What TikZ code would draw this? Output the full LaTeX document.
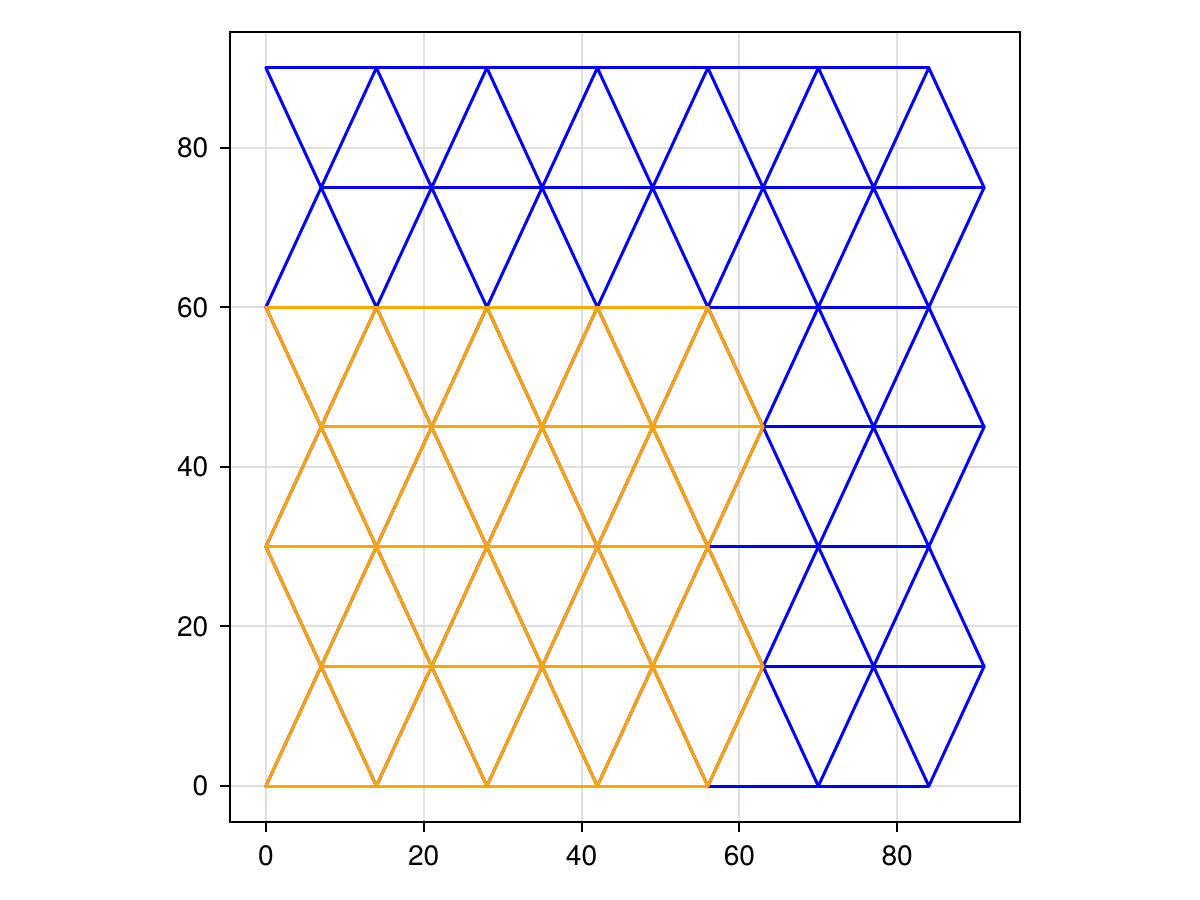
\documentclass[tikz,border=0pt]{standalone}
\usepackage{fontspec}
\setmainfont{TeX Gyre Heros}
\tikzset{>=stealth}

\begin{document}
\begin{tikzpicture}[
    meshline/.style={line width=0.85pt, line join=round, line cap=round},
    xlab/.style={anchor=north, inner sep=0pt, font=\fontsize{8}{9.6}\selectfont},
    ylab/.style={anchor=east, inner sep=0pt, font=\fontsize{8}{9.6}\selectfont}]
    \useasboundingbox (0,0) rectangle (12,9);
    \begin{scope}[shift={(2.659,1.139)}, x=0.07892cm, y=0.0798cm]
    \foreach \t in {0,20,...,80} {
        \draw[color=black!12, line width=0.57pt] (\t,-4.5) -- (\t,94.5);
        \draw[color=black!12, line width=0.57pt] (-4.55,\t) -- (95.55,\t);
        \draw[line width=0.57pt] (\t,-4.5) -- ++(0pt,-1mm) coordinate (xt\t);
        \draw[line width=0.57pt] (-4.55,\t) -- ++(-1mm,0pt) coordinate (yt\t);
        \node[xlab] (xl\t) at ([yshift=-1.3mm]xt\t) {\t};
        \node[ylab] (yl\t) at ([xshift=-1.1mm]yt\t) {\t};
    }
    \draw[line width=0.57pt] (-4.55,-4.5) rectangle (95.55,94.5);
    \foreach \ye/\yo in {0/15, 30/15, 30/45, 60/45, 60/75, 90/75}
        \draw[meshline, color=blue] (0,\ye) -- (7,\yo) \foreach \i in {1,...,6} { -- (14*\i,\ye) -- (14*\i+7,\yo) };
    \foreach \y in {0,30,60,90} \draw[meshline, color=blue] (0,\y) -- (84,\y);
    \foreach \y in {15,45,75} \draw[meshline, color=blue] (7,\y) -- (91,\y);
    \definecolor{mkorange}{RGB}{255,165,0}
    \foreach \ye/\yo in {0/15, 30/15, 30/45, 60/45}
        \draw[meshline, color=mkorange] (0,\ye) -- (7,\yo) \foreach \i in {1,...,4} { -- (14*\i,\ye) -- (14*\i+7,\yo) };
    \foreach \y in {0,30,60} \draw[meshline, color=mkorange] (0,\y) -- (56,\y);
    \foreach \y in {15,45} \draw[meshline, color=mkorange] (7,\y) -- (63,\y);
    \end{scope}
\end{tikzpicture}
\end{document}
